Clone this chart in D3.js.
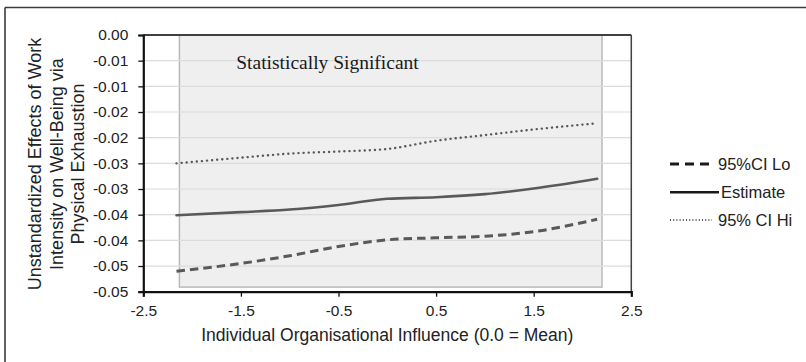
<!DOCTYPE html>
<html>
<head>
<meta charset="utf-8">
<script src="https://cdn.jsdelivr.net/npm/d3@7"></script>
<style>
  html, body { margin: 0; padding: 0; background: #fff; }
  svg { display: block; }
</style>
</head>
<body>
<svg id="chart" width="806" height="362"></svg>
<script>
// Conditional indirect effect of work intensity on well-being via physical exhaustion,
// across levels of individual organisational influence.
const influence = [-2.16, -1.5, -1.0, -0.5, 0.0, 0.5, 1.0, 1.5, 2.15];
const ciLo     = [-0.0460, -0.0445, -0.0430, -0.0412, -0.0399, -0.0395, -0.0392, -0.0383, -0.0359];
const estimate = [-0.0351, -0.0345, -0.0340, -0.0331, -0.0319, -0.0316, -0.0310, -0.0299, -0.0280];
const ciHi     = [-0.0250, -0.0239, -0.0231, -0.0227, -0.0222, -0.0206, -0.0195, -0.0184, -0.0172];

// Region of significance (shaded band)
const sigRegion = { x0: -2.13, x1: 2.2, y0: -0.0491, y1: 0.0 };
const sigLabel = "Statistically Significant";

const xTicks = [-2.5, -1.5, -0.5, 0.5, 1.5, 2.5];
const xTickLabels = ["-2.5", "-1.5", "-0.5", "0.5", "1.5", "2.5"];
const yTicks = [0, -0.005, -0.01, -0.015, -0.02, -0.025, -0.03, -0.035, -0.04, -0.045, -0.05];
const yTickLabels = ["0.00", "-0.01", "-0.01", "-0.02", "-0.02", "-0.03", "-0.03", "-0.04", "-0.04", "-0.05", "-0.05"];

const xTitle = "Individual Organisational Influence (0.0 = Mean)";
const yTitleLines = ["Unstandardized Effects of Work", "Intensity on Well-Being via", "Physical Exhaustion"];

const seriesNames = ["95%CI Lo", "Estimate", "95% CI Hi"];

const svg = d3.select("#chart");
const sans = "'Liberation Sans', Arial, sans-serif";
const serif = "'Liberation Serif', 'Times New Roman', serif";

const plot = { left: 143.3, right: 631.3, top: 35, bottom: 291.7 };
const x = d3.scaleLinear().domain([-2.5, 2.5]).range([plot.left, plot.right]);
const y = d3.scaleLinear().domain([-0.05, 0]).range([plot.bottom, plot.top]);

// outer frame (top and left edges)
svg.append("line").attr("x1", 5).attr("x2", 806).attr("y1", 7.5).attr("y2", 7.5)
  .attr("stroke", "#3a3a3a").attr("stroke-width", 1.6);
svg.append("line").attr("x1", 5).attr("x2", 5).attr("y1", 7.5).attr("y2", 362)
  .attr("stroke", "#3a3a3a").attr("stroke-width", 1.6);

// shaded significance region
svg.append("rect")
  .attr("x", x(sigRegion.x0)).attr("y", y(sigRegion.y1))
  .attr("width", x(sigRegion.x1) - x(sigRegion.x0))
  .attr("height", y(sigRegion.y0) - y(sigRegion.y1))
  .attr("fill", "#efefef").attr("stroke", "#b9b9b9").attr("stroke-width", 1.5);

// horizontal gridlines
svg.append("g").selectAll("line").data(yTicks.slice(1, -1)).join("line")
  .attr("x1", plot.left).attr("x2", plot.right)
  .attr("y1", d => y(d)).attr("y2", d => y(d))
  .attr("stroke", "#dcdcdc").attr("stroke-width", 1.2);

// label inside the region
svg.append("text")
  .attr("x", 327.5).attr("y", 69)
  .attr("text-anchor", "middle")
  .attr("font-family", serif).attr("font-size", 19.5).attr("fill", "#1a1a1a")
  .text(sigLabel);

// plot frame: top and right edges
svg.append("line").attr("x1", plot.left).attr("x2", plot.right).attr("y1", plot.top).attr("y2", plot.top)
  .attr("stroke", "#404040").attr("stroke-width", 1.8);
svg.append("line").attr("x1", plot.right).attr("x2", plot.right).attr("y1", plot.top).attr("y2", plot.bottom)
  .attr("stroke", "#404040").attr("stroke-width", 1.5);

// series lines
const lineStyles = [
  { values: ciLo,     width: 3,   dash: "8.5,5", cap: "butt" },
  { values: estimate, width: 2.6, dash: null,    cap: "round" },
  { values: ciHi,     width: 2.4, dash: "0.1,5", cap: "round" }
];
const lineGen = d3.line()
  .x(d => x(d[0])).y(d => y(d[1]))
  .curve(d3.curveMonotoneX);

svg.append("g").selectAll("path").data(lineStyles).join("path")
  .attr("d", s => lineGen(influence.map((v, i) => [v, s.values[i]])))
  .attr("fill", "none").attr("stroke", "#595959")
  .attr("stroke-width", s => s.width)
  .attr("stroke-dasharray", s => s.dash)
  .attr("stroke-linecap", s => s.cap);

// axes
const xAxis = d3.axisBottom(x).tickValues(xTicks)
  .tickFormat((d, i) => xTickLabels[i]).tickSizeOuter(0).tickSize(5).tickPadding(8);
const gx = svg.append("g").attr("transform", `translate(0,${plot.bottom})`).call(xAxis);

const yAxis = d3.axisLeft(y).tickValues(yTicks)
  .tickFormat((d, i) => yTickLabels[i]).tickSizeOuter(0).tickSize(5).tickPadding(10);
const gy = svg.append("g").attr("transform", `translate(${plot.left},0)`).call(yAxis);

[gx, gy].forEach(g => {
  g.attr("font-family", sans).attr("font-size", 15.5);
  g.select(".domain").attr("stroke", "#111").attr("stroke-width", 2.2);
  g.selectAll(".tick line").attr("stroke", "#111").attr("stroke-width", 1.3);
  g.selectAll(".tick text").attr("fill", "#222");
});

// axis titles
svg.append("text")
  .attr("x", (plot.left + plot.right) / 2).attr("y", 341)
  .attr("text-anchor", "middle")
  .attr("font-family", sans).attr("font-size", 17.5).attr("fill", "#222")
  .text(xTitle);

const yTitle = svg.append("text")
  .attr("transform", "translate(0,164) rotate(-90)")
  .attr("text-anchor", "middle")
  .attr("font-family", sans).attr("font-size", 18).attr("fill", "#222");
yTitle.selectAll("tspan").data(yTitleLines).join("tspan")
  .attr("x", 0).attr("y", (d, i) => 41 + i * 21.5)
  .text(d => d);

// legend
const legend = svg.append("g");
const legendRows = [
  { dash: "9,6",   width: 3,   cap: "butt" },
  { dash: null,    width: 2.6, cap: "butt" },
  { dash: "1,2.2", width: 1.6, cap: "butt" }
];
const legendY = [164, 192.3, 220];
legend.selectAll("line").data(legendRows).join("line")
  .attr("x1", 670)
  .attr("x2", (d, i) => i === 1 ? 719 : 712)
  .attr("y1", (d, i) => legendY[i]).attr("y2", (d, i) => legendY[i])
  .attr("stroke", "#1a1a1a")
  .attr("stroke-width", d => d.width)
  .attr("stroke-dasharray", d => d.dash)
  .attr("stroke-linecap", d => d.cap);
legend.selectAll("text").data(seriesNames).join("text")
  .attr("x", (d, i) => i === 1 ? 721 : 718)
  .attr("y", (d, i) => legendY[i]).attr("dy", "0.35em")
  .attr("font-family", sans).attr("font-size", 16.5).attr("fill", "#222")
  .text(d => d);
</script>
</body>
</html>
